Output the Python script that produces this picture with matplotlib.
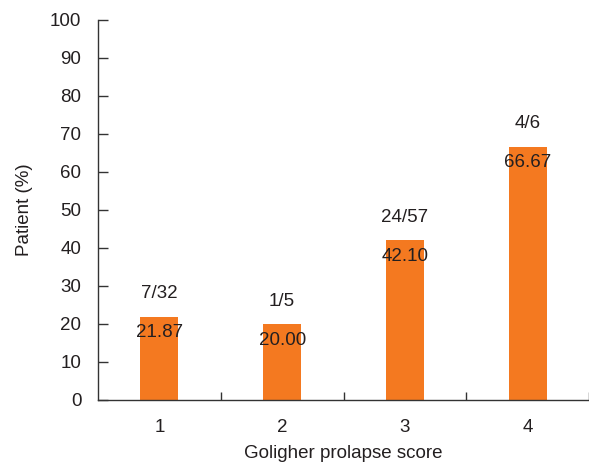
import matplotlib
matplotlib.use("Agg")
import matplotlib.pyplot as plt

plt.rcParams['font.family'] = ['Liberation Sans', 'DejaVu Sans']

categories = ["1", "2", "3", "4"]
values = [21.87, 20.00, 42.10, 66.67]
fractions = ["7/32", "1/5", "24/57", "4/6"]
value_labels = ["21.87", "20.00", "42.10", "66.67"]

color = "#F47920"
txt = "#231F20"

fig = plt.figure(figsize=(5.89, 4.66), dpi=100)
ax = fig.add_axes([98/589, 1-400/466, 1-98/589, 380/466])
x = list(range(1, len(categories)+1))
ax.bar(x, values, width=0.31, color=color, zorder=2)
for xi, v, fr, vl in zip(x, values, fractions, value_labels):
    ax.text(xi, v + 3.8, fr, ha="center", va="bottom", fontsize=13.5, color=txt)
    ax.text(xi, v - 2.0, vl, ha="center", va="top", fontsize=13.5, color=txt)

ax.set_xlim(0.5, 4.5)
ax.set_ylim(0, 100)
ax.set_yticks(range(0, 101, 10))
ax.set_xticks(x)
ax.set_xticklabels(categories)
ax.set_xticks([1.5, 2.5, 3.5, 4.5], minor=True)
ax.tick_params(axis="x", which="major", length=0, pad=14, labelsize=13.5, labelcolor=txt)
ax.tick_params(axis="x", which="minor", direction="in", length=6, width=1, color="#333333")
ax.tick_params(axis="y", direction="in", length=7, width=1, color="#333333", pad=12, labelsize=13.5, labelcolor=txt)
for s in ["top", "right"]:
    ax.spines[s].set_visible(False)
for s in ["left", "bottom"]:
    ax.spines[s].set_color("#333333")
    ax.spines[s].set_linewidth(1)
ax.set_xlabel("Goligher prolapse score", fontsize=13.5, color=txt, labelpad=6)
ax.set_ylabel("Patient (%)", fontsize=13.5, color=txt, labelpad=12)
fig.savefig("out.png", dpi=100)
